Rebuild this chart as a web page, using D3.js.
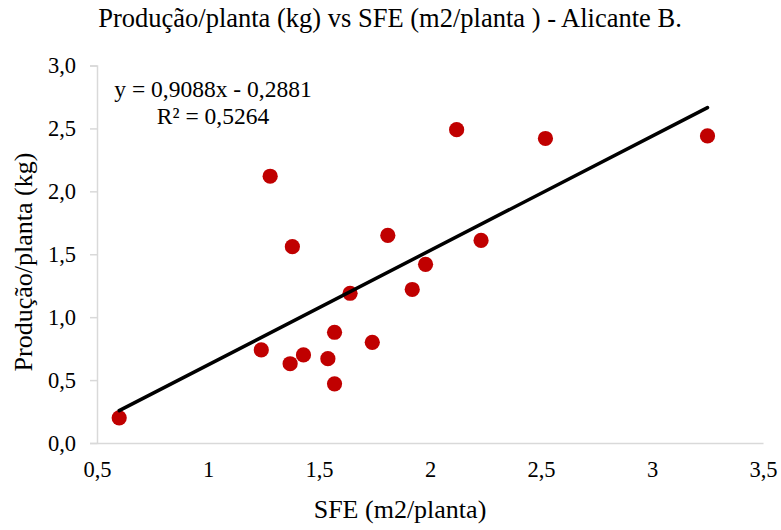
<!DOCTYPE html>
<html><head><meta charset="utf-8">
<script src="https://cdn.jsdelivr.net/npm/d3@7"></script>
<style>body{margin:0;background:#fff}svg{display:block}svg text{font-family:"Liberation Serif","Times New Roman",serif !important;fill:#000}</style>
</head><body>
<script>
const sfe = [0.60,1.28,1.38,1.81,1.98,1.92,1.64,1.57,1.74,1.24,1.43,1.37,1.54,1.57,2.12,2.52,3.25,2.23];
const producao = [0.20,2.12,1.56,1.65,1.42,1.22,1.19,0.88,0.80,0.74,0.70,0.63,0.67,0.47,2.49,2.42,2.44,1.61];
const xTicks = [0.5,1,1.5,2,2.5,3,3.5];
const yTicks = [0,0.5,1,1.5,2,2.5,3];
const slope = 0.9088, intercept = -0.2881;
const eqText = "y = 0,9088x - 0,2881";
const r2Text = "R² = 0,5264";

const W = 781, H = 530;
const svg = d3.select("body").append("svg").attr("width", W).attr("height", H);
const x = d3.scaleLinear().domain([0.5,3.5]).range([97,763]);
const y = d3.scaleLinear().domain([0,3]).range([443,65.5]);
const fmt = v => String(v).replace(".", ",");
const fmtY = v => v.toFixed(1).replace(".", ",");

// y axis
const ya = svg.append("g").attr("transform","translate(97,0)")
  .call(d3.axisLeft(y).tickValues(yTicks).tickFormat(fmtY).tickSize(7).tickPadding(14));
ya.select(".domain").attr("stroke","#d9d9d9").attr("stroke-width",1.5);
ya.selectAll(".tick line").attr("stroke","#d9d9d9").attr("stroke-width",1.5);
ya.selectAll(".tick text").attr("font-size",22.5);

// x axis
const xa = svg.append("g").attr("transform","translate(0,443)")
  .call(d3.axisBottom(x).tickValues(xTicks).tickFormat(fmt).tickSize(0));
xa.select(".domain").attr("stroke","#d9d9d9").attr("stroke-width",1.5);
xa.selectAll(".tick text").attr("font-size",22.5).attr("dy",null).attr("y",34);

// points
svg.append("g").selectAll("circle").data(sfe.map((d,i)=>[d,producao[i]])).join("circle")
  .attr("cx",d=>x(d[0])).attr("cy",d=>y(d[1])).attr("r",7.6).attr("fill","#c00000");

// trend line
const xmin = d3.min(sfe), xmax = d3.max(sfe);
svg.append("line")
  .attr("x1",x(xmin)).attr("y1",y(slope*xmin+intercept))
  .attr("x2",x(xmax)).attr("y2",y(slope*xmax+intercept))
  .attr("stroke","#000").attr("stroke-width",3.5).attr("stroke-linecap","round");

// equation
svg.append("text").attr("x",213).attr("y",97).attr("text-anchor","middle").attr("font-size",23.5).text(eqText);
svg.append("text").attr("x",213).attr("y",124).attr("text-anchor","middle").attr("font-size",23.5).text(r2Text);

// title
svg.append("text").attr("x",390).attr("y",27).attr("text-anchor","middle").attr("font-size",26.5)
  .text("Produção/planta (kg) vs SFE (m2/planta ) - Alicante B.");
// axis titles
svg.append("text").attr("x",400).attr("y",518).attr("text-anchor","middle").attr("font-size",26)
  .text("SFE (m2/planta)");
svg.append("text").attr("transform","translate(32,262) rotate(-90)").attr("text-anchor","middle").attr("font-size",26)
  .text("Produção/planta (kg)");
</script>
</body></html>
